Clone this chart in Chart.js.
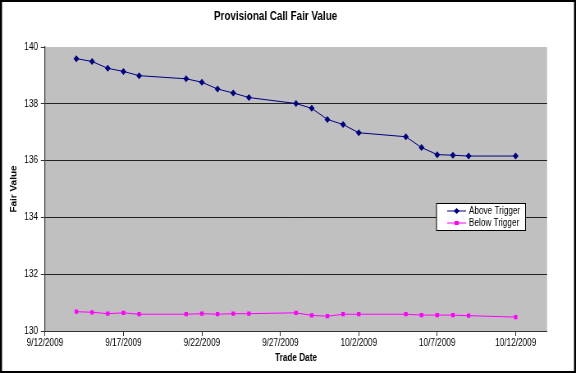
<!DOCTYPE html>
<html>
<head>
<meta charset="utf-8">
<script src="https://cdn.jsdelivr.net/npm/chart.js@4.4.1/dist/chart.umd.min.js"></script>
<style>
  html, body { margin: 0; padding: 0; background: #fff; overflow: hidden; }
  /* the original picture is squeezed horizontally; draw wide, then squeeze */
  #wrap { width: 576px; height: 373px; overflow: hidden; position: relative; }
  #chart { position: absolute; left: 0; top: 0; transform-origin: 0 0; transform: scaleX(0.82051); }
</style>
</head>
<body>
<div id="wrap"><canvas id="chart" width="702" height="373"></canvas></div>
<script>
// Trade dates (weekdays, plus 10/12)
const tradeDates = [
  '9/14/2009', '9/15/2009', '9/16/2009', '9/17/2009', '9/18/2009',
  '9/21/2009', '9/22/2009', '9/23/2009', '9/24/2009', '9/25/2009',
  '9/28/2009', '9/29/2009', '9/30/2009', '10/1/2009', '10/2/2009',
  '10/5/2009', '10/6/2009', '10/7/2009', '10/8/2009', '10/9/2009',
  '10/12/2009'
];

// Fair values
const aboveTrigger = [
  139.59, 139.49, 139.25, 139.14, 138.99,
  138.88, 138.76, 138.52, 138.38, 138.22,
  138.01, 137.84, 137.45, 137.27, 136.98,
  136.84, 136.46, 136.21, 136.19, 136.16,
  136.16
];
const belowTrigger = [
  130.68, 130.66, 130.61, 130.64, 130.59,
  130.59, 130.61, 130.59, 130.61, 130.61,
  130.64, 130.55, 130.52, 130.59, 130.59,
  130.59, 130.56, 130.56, 130.56, 130.54,
  130.49
];

// Axis range: 9/12/2009 .. 10/14/2009, ticks every 5 days
const axisStart = '9/12/2009';
const axisEndDays = 32;
const yTicks = [130, 132, 134, 136, 138, 140];

const FONT = "Arial, 'Liberation Sans', sans-serif";
const SX = 576 / 702; // horizontal squeeze

function parseDate(s) {
  const [m, d, y] = s.split('/').map(Number);
  return Date.UTC(y, m - 1, d);
}
const DAY = 86400000;
const t0 = parseDate(axisStart);
const dayNum = s => Math.round((parseDate(s) - t0) / DAY);
const fmtDay = n => {
  const d = new Date(t0 + n * DAY);
  return (d.getUTCMonth() + 1) + '/' + d.getUTCDate() + '/' + d.getUTCFullYear();
};

const toPoints = vals => tradeDates.map((s, i) => ({ x: dayNum(s), y: vals[i] }));

// gray plot area, white page, outer frame
const backdrop = {
  id: 'backdrop',
  beforeDraw(chart) {
    const { ctx, chartArea: a } = chart;
    ctx.save();
    ctx.fillStyle = '#fff';
    ctx.fillRect(0, 0, chart.width, chart.height);
    ctx.fillStyle = '#c0c0c0';
    ctx.fillRect(a.left, a.top, a.right - a.left, a.bottom - a.top);
    ctx.restore();
  },
  afterDraw(chart) {
    const ctx = chart.ctx;
    const bw = 2 / SX;
    ctx.save();
    ctx.fillStyle = '#000';
    ctx.fillRect(0, 0, chart.width, 2);
    ctx.fillRect(0, chart.height - 2, chart.width, 2);
    ctx.fillRect(0, 0, bw, chart.height);
    ctx.fillRect(chart.width - bw, 0, bw, chart.height);
    ctx.restore();
  }
};

// Excel-like legend box inside the plot
const boxLegend = {
  id: 'boxLegend',
  afterDatasetsDraw(chart) {
    const ctx = chart.ctx;
    const x = 532, y = 203.5, w = 108.5, h = 27;
    ctx.save();
    ctx.fillStyle = '#fff';
    ctx.fillRect(x, y, w, h);
    ctx.strokeStyle = '#000';
    ctx.lineWidth = 1;
    ctx.strokeRect(x, y, w, h);
    chart.data.datasets.forEach((ds, i) => {
      const cy = y + 7.5 + i * 12;
      const mx = 556.5;
      ctx.strokeStyle = ds.borderColor;
      ctx.lineWidth = 1;
      ctx.beginPath();
      ctx.moveTo(545, cy);
      ctx.lineTo(568, cy);
      ctx.stroke();
      ctx.fillStyle = ds.pointBackgroundColor;
      if (ds.pointStyle === 'rectRot') {
        ctx.beginPath();
        ctx.moveTo(mx, cy - 3);
        ctx.lineTo(mx + 3.5, cy);
        ctx.lineTo(mx, cy + 3);
        ctx.lineTo(mx - 3.5, cy);
        ctx.closePath();
        ctx.fill();
      } else {
        ctx.fillRect(mx - 2.5, cy - 2, 5, 4);
      }
      ctx.fillStyle = '#000';
      ctx.font = '10px ' + FONT;
      ctx.textBaseline = 'middle';
      ctx.fillText(ds.label, 571.5, cy);
    });
    ctx.restore();
  }
};

new Chart(document.getElementById('chart'), {
  type: 'line',
  data: {
    datasets: [
      {
        label: 'Above Trigger',
        data: toPoints(aboveTrigger),
        borderColor: '#000080',
        backgroundColor: '#000080',
        pointBackgroundColor: '#000080',
        pointBorderColor: '#000080',
        pointStyle: 'rectRot',
        pointRadius: 3.5,
        pointBorderWidth: 0,
        borderWidth: 1,
        tension: 0
      },
      {
        label: 'Below Trigger',
        data: toPoints(belowTrigger),
        borderColor: '#ff00ff',
        backgroundColor: '#ff00ff',
        pointBackgroundColor: '#ff00ff',
        pointBorderColor: '#ff00ff',
        pointStyle: 'rect',
        pointRadius: 3,
        pointBorderWidth: 0,
        borderWidth: 1,
        tension: 0
      }
    ]
  },
  options: {
    responsive: false,
    animation: false,
    devicePixelRatio: 1,
    layout: { padding: { top: 0, left: 5, right: 35.3, bottom: 5 } },
    plugins: {
      legend: { display: false },
      tooltip: { enabled: false },
      title: {
        display: true,
        text: 'Provisional Call Fair Value',
        color: '#000',
        font: { family: FONT, size: 12, weight: 'bold', lineHeight: 1.2 },
        padding: { top: 9, bottom: 23.6 }
      }
    },
    scales: {
      x: {
        type: 'linear',
        min: 0,
        max: axisEndDays,
        afterBuildTicks: scale => {
          scale.ticks = scale.ticks.filter(t => t.value % 5 === 0);
        },
        afterFit: scale => { scale.height = 37; },
        ticks: {
          stepSize: 5,
          color: '#000',
          padding: 1,
          maxRotation: 0,
          autoSkip: false,
          font: { family: FONT, size: 10 },
          callback: v => fmtDay(v)
        },
        grid: { drawOnChartArea: false, drawTicks: true, tickLength: 5, color: '#333' },
        border: { color: '#333', width: 1 },
        title: {
          display: true,
          text: 'Trade Date',
          color: '#000',
          font: { family: FONT, size: 10, weight: 'bold', lineHeight: 1.2 },
          padding: { top: 0, bottom: 4 }
        }
      },
      y: {
        min: yTicks[0],
        max: yTicks[yTicks.length - 1],
        afterBuildTicks: scale => {
          scale.ticks = yTicks.map(v => ({ value: v }));
        },
        afterFit: scale => { scale.width = 49.8; },
        ticks: {
          color: '#000',
          padding: 3.5,
          font: { family: FONT, size: 10 }
        },
        grid: {
          color: c => (c.tick && c.tick.value === 140) ? 'rgba(0,0,0,0)' : '#222',
          tickColor: '#333',
          tickLength: 5,
          lineWidth: 1
        },
        border: { color: '#333', width: 1.2 },
        title: {
          display: true,
          text: 'Fair Value',
          color: '#000',
          font: { family: FONT, size: 10, weight: 'bold', lineHeight: 1.2 },
          padding: { top: 6, bottom: 0 }
        }
      }
    }
  },
  plugins: [backdrop, boxLegend]
});
</script>
</body>
</html>
